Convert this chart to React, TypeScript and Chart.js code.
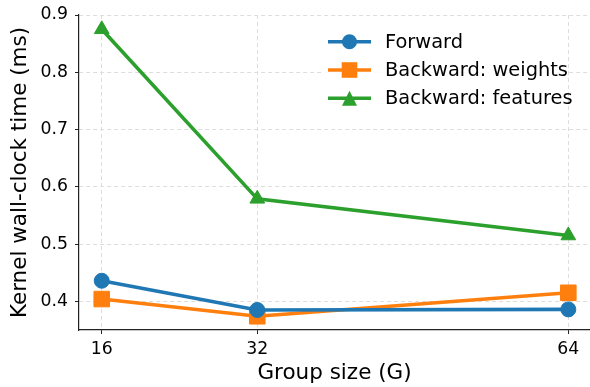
import React, { useEffect, useRef } from 'react';
import { Chart, registerables } from 'chart.js';

Chart.register(...registerables);

const groupSizes = [16, 32, 64];
const forward = [0.436, 0.385, 0.386];
const backwardWeights = [0.404, 0.374, 0.415];
const backwardFeatures = [0.875, 0.579, 0.515];
const xTicks = [16, 32, 64];
const yTicks = [0.4, 0.5, 0.6, 0.7, 0.8, 0.9];
const seriesLabels = ['Forward', 'Backward: weights', 'Backward: features'];
const seriesColors = ['#1f77b4', '#ff7f0e', '#2ca02c'];
const seriesMarkers = ['circle', 'rect', 'triangle'];
const markerRadii = [7.5, 11, 8.5];
const xTitle = 'Group size (G)';
const yTitle = 'Kernel wall-clock time (ms)';

const FONT = '"DejaVu Sans", Verdana, sans-serif';

function drawMarker(ctx: CanvasRenderingContext2D, style: string, x: number, y: number, color: string) {
  ctx.fillStyle = color;
  ctx.beginPath();
  if (style === 'circle') {
    ctx.arc(x, y, 7.5, 0, Math.PI * 2);
  } else if (style === 'rect') {
    ctx.rect(x - 7.8, y - 7.8, 15.6, 15.6);
  } else {
    ctx.moveTo(x, y - 7.5);
    ctx.lineTo(x + 7.5, y + 7.5);
    ctx.lineTo(x - 7.5, y + 7.5);
    ctx.closePath();
  }
  ctx.fill();
}

const legendPlugin = {
  id: 'mplLegend',
  afterDatasetsDraw(chart: any) {
    const ctx: CanvasRenderingContext2D = chart.ctx;
    ctx.save();
    ctx.fillStyle = 'rgba(255,255,255,0.85)';
    ctx.fillRect(322, 22, 244, 92);
    const rowsY = [41.7, 70, 98.3];
    seriesLabels.forEach((label, i) => {
      const y = rowsY[i];
      ctx.strokeStyle = seriesColors[i];
      ctx.lineWidth = 3.6;
      ctx.setLineDash([]);
      ctx.beginPath();
      ctx.moveTo(328, y);
      ctx.lineTo(371, y);
      ctx.stroke();
      drawMarker(ctx, seriesMarkers[i], 349.5, y, seriesColors[i]);
      ctx.fillStyle = '#000';
      ctx.font = `19.4px ${FONT}`;
      ctx.textAlign = 'left';
      ctx.textBaseline = 'middle';
      ctx.fillText(label, 385, y + 1);
    });
    ctx.restore();
  },
};

export default function App() {
  const canvasRef = useRef<HTMLCanvasElement | null>(null);

  useEffect(() => {
    document.body.style.margin = '0';
    const canvas = canvasRef.current;
    if (!canvas) return;
    const seriesData = [forward, backwardWeights, backwardFeatures];
    const chart = new Chart(canvas, {
      type: 'line',
      data: {
        datasets: seriesData.map((vals, i) => ({
          label: seriesLabels[i],
          data: groupSizes.map((g, j) => ({ x: g, y: vals[j] })),
          borderColor: seriesColors[i],
          backgroundColor: seriesColors[i],
          borderWidth: 3.6,
          tension: 0,
          pointStyle: seriesMarkers[i] as any,
          pointRadius: markerRadii[i],
          pointBackgroundColor: seriesColors[i],
          pointBorderColor: seriesColors[i],
          pointBorderWidth: 1,
          clip: false as any,
        })),
      },
      options: {
        animation: false,
        responsive: false,
        devicePixelRatio: 1,
        layout: { autoPadding: false, padding: { top: 15, right: 0, left: 0, bottom: 0 } },
        plugins: {
          legend: { display: false },
          tooltip: { enabled: false },
        },
        scales: {
          x: {
            type: 'linear',
            min: 13.66,
            max: 66.23,
            afterBuildTicks: (scale: any) => {
              scale.ticks = xTicks.map((v) => ({ value: v }));
            },
            afterFit: (scale: any) => {
              scale.height = 57;
              scale.paddingLeft = 0;
              scale.paddingRight = 0;
            },
            ticks: {
              color: '#000',
              font: { family: FONT, size: 17.3 },
              padding: 5,
              maxRotation: 0,
              callback: (v: any) => String(v),
            },
            grid: {
              color: '#dddddd',
              lineWidth: 1,
              tickColor: '#222',
              tickLength: 4,
              tickWidth: 1,
              tickBorderDash: [],
            },
            border: { display: true, color: '#222', width: 1.2, dash: [4, 3] },
            title: {
              display: true,
              text: xTitle,
              color: '#000',
              font: { family: FONT, size: 21.5 },
              padding: { top: 0, bottom: 1 },
            },
          },
          y: {
            type: 'linear',
            min: 0.35,
            max: 0.9,
            afterBuildTicks: (scale: any) => {
              scale.ticks = yTicks.map((v) => ({ value: v }));
            },
            afterFit: (scale: any) => {
              scale.width = 79;
              scale.paddingTop = 0;
              scale.paddingBottom = 0;
            },
            ticks: {
              color: '#000',
              font: { family: FONT, size: 17.3 },
              padding: 7,
              callback: (v: any) => Number(v).toFixed(1),
            },
            grid: {
              color: '#dddddd',
              lineWidth: 1,
              tickColor: '#222',
              tickLength: 4,
              tickWidth: 1,
              tickBorderDash: [],
            },
            border: { display: true, color: '#222', width: 1.2, dash: [4, 3] },
            title: {
              display: true,
              text: yTitle,
              color: '#000',
              font: { family: FONT, size: 21.5 },
              padding: { top: 8, bottom: 0 },
            },
          },
        },
      },
      plugins: [legendPlugin],
    });
    return () => chart.destroy();
  }, []);

  return (
    <div style={{ width: 590, height: 387 }}>
      <canvas ref={canvasRef} width={590} height={387} style={{ display: 'block' }} />
    </div>
  );
}
